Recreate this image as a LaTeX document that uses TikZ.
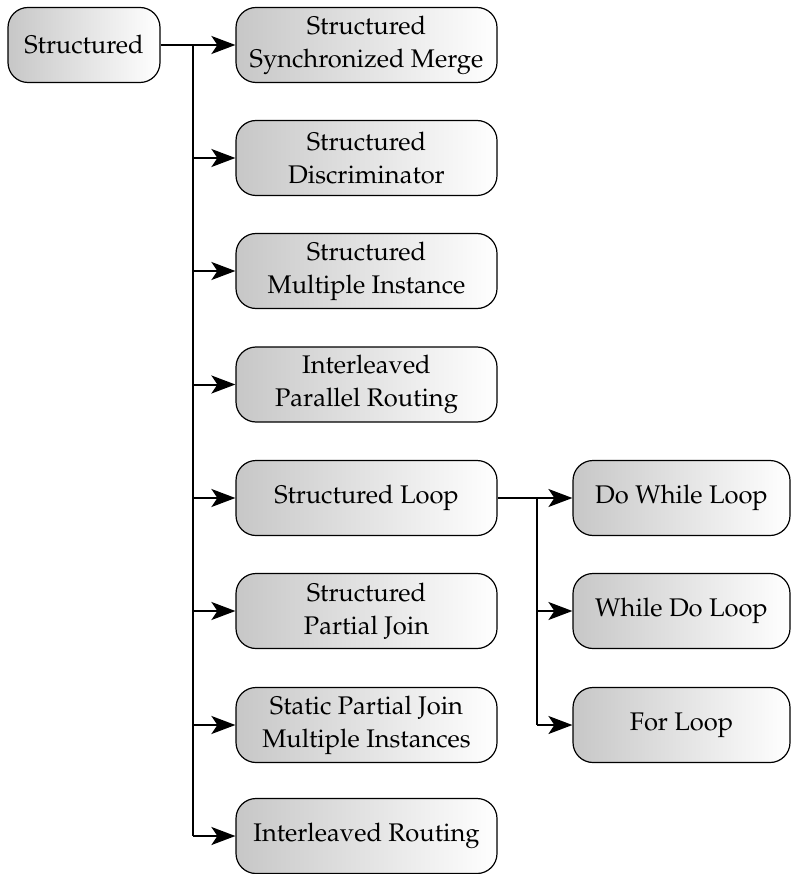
\documentclass[tikz,border=0pt]{standalone}
\usepackage[T1]{fontenc}
\usepackage{mathpazo}
\usetikzlibrary{arrows.meta}
\begin{document}
\begin{tikzpicture}[x=1pt,y=-1pt,
  pat/.style={draw=black, line width=1.2pt, rounded corners=20pt,
    left color=black!22, right color=white, align=center,
    font=\fontsize{25.5}{33}\selectfont, inner sep=0pt},
  root/.style={pat, minimum width=152pt, minimum height=75pt},
  mid/.style={pat, minimum width=261pt, minimum height=75pt},
  leaf/.style={pat, minimum width=217pt, minimum height=75pt},
  link/.style={line width=2pt},
  arr/.style={line width=2pt, -{Stealth[length=24pt,width=18pt,inset=6pt]}}]
\useasboundingbox (0,0) rectangle (791,874);

\node[root] (s) at (84,45) {Structured};

\node[mid] (m1) at (366.5,45)  {Structured\\Synchronized Merge};
\node[mid] (m2) at (366.5,158) {Structured\\Discriminator};
\node[mid] (m3) at (366.5,271) {Structured\\Multiple Instance};
\node[mid] (m4) at (366.5,384.5) {Interleaved\\Parallel Routing};
\node[mid] (m5) at (366.5,498) {Structured Loop};
\node[mid] (m6) at (366.5,611) {Structured\\Partial Join};
\node[mid] (m7) at (366.5,725) {Static Partial Join\\Multiple Instances};
\node[mid] (m8) at (366.5,836) {Interleaved Routing};

\node[leaf] (l1) at (681.5,498) {Do While Loop};
\node[leaf] (l2) at (681.5,611) {While Do Loop};
\node[leaf] (l3) at (681.5,725) {For Loop};

% main trunk
\coordinate (t0) at (193,45);
\coordinate (t1) at (193,836);
\draw[link] (s.east) -- (t0);
\draw[link] (t0) -- (t1);
\foreach \m in {m1,m2,m3,m4,m5,m6,m7,m8}
  \draw[arr] (193,0 |- \m.west) -- (\m.west);

% loop sub-trunk
\coordinate (u0) at (537,498);
\coordinate (u1) at (537,725);
\draw[link] (m5.east) -- (u0);
\draw[link] (u0) -- (u1);
\foreach \l in {l1,l2,l3}
  \draw[arr] (537,0 |- \l.west) -- (\l.west);
\end{tikzpicture}
\end{document}
